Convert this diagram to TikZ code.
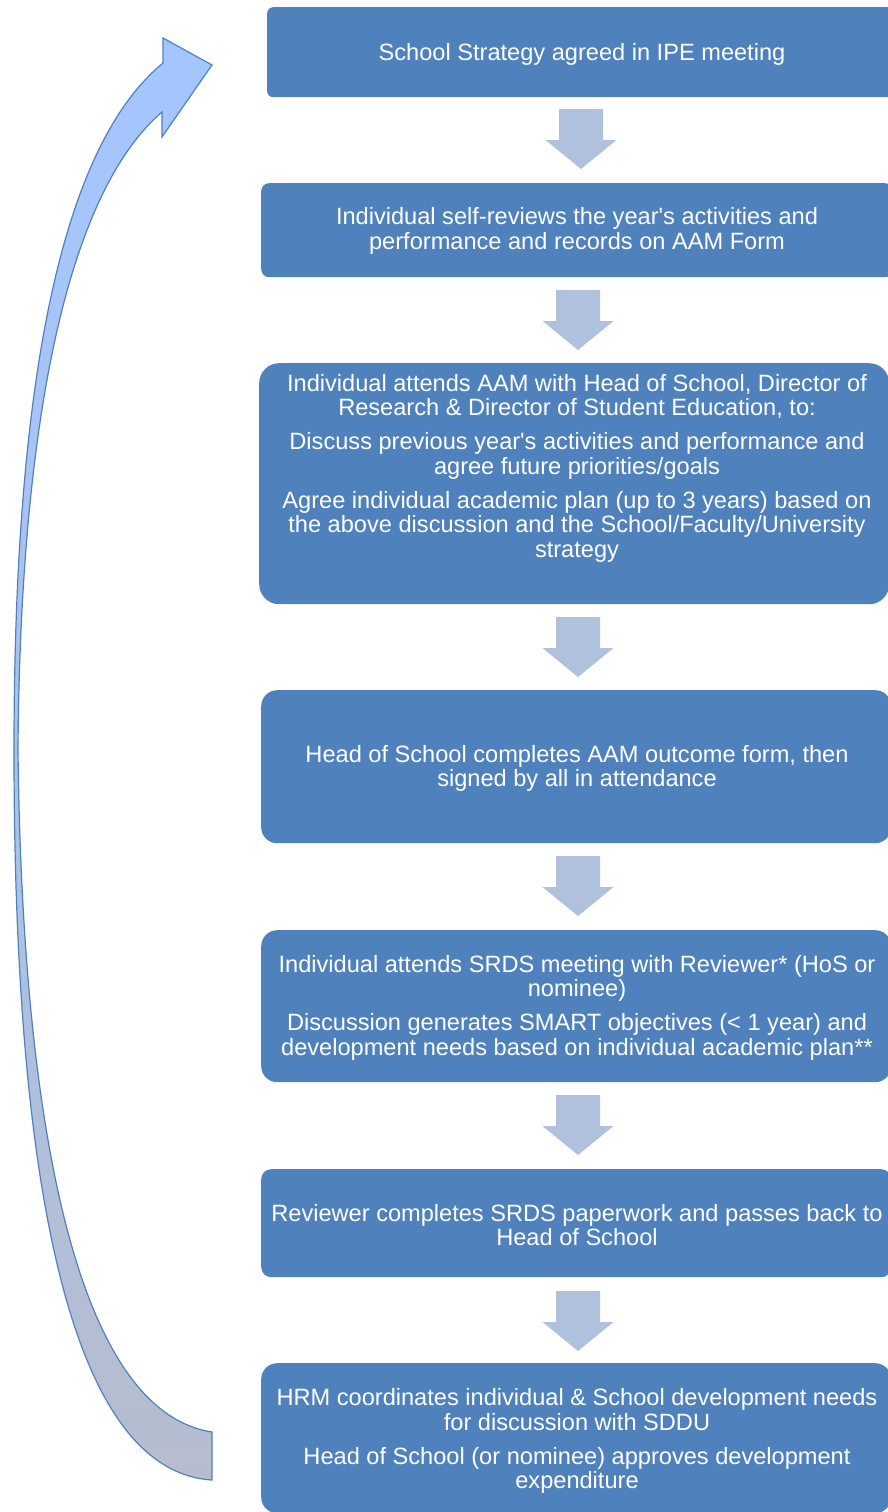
\documentclass[tikz,border=0pt]{standalone}
\usepackage{fontspec}
\setmainfont{Liberation Sans}[Ligatures=TeXOff]
\definecolor{boxblue}{HTML}{4F81BD}
\definecolor{arrowfill}{HTML}{B0C1DD}
\definecolor{curvetop}{HTML}{A4C6FF}
\definecolor{curvemid}{HTML}{ABC2EA}
\definecolor{curvebot}{HTML}{B5BDCD}
\tikzset{
  box/.style={fill=boxblue, draw=none, anchor=north west, inner sep=0pt},
  txt/.style={text=white, align=center, inner sep=0pt, font=\fontsize{23.6}{24.5}\selectfont},
  downarrow/.pic={
    \fill[arrowfill] (-22,0) -- (22,0) -- (22,31) -- (35.5,31) -- (0,60) -- (-35.5,31) -- (-22,31) -- cycle;
  }
}
\begin{document}
\begin{tikzpicture}[x=1pt,y=-1pt]
\useasboundingbox (0,0) rectangle (887,1512);

% boxes
\node[box, rounded corners=6pt, minimum width=626pt, minimum height=90pt] (b1) at (267,7) {};
\node[box, rounded corners=8pt, minimum width=632pt, minimum height=94pt] (b2) at (261,183) {};
\node[box, rounded corners=20pt, minimum width=630pt, minimum height=241pt] (b3) at (259,363) {};
\node[box, rounded corners=16pt, minimum width=630pt, minimum height=153pt] (b4) at (261,690) {};
\node[box, rounded corners=16pt, minimum width=630pt, minimum height=152pt] (b5) at (261,930) {};
\node[box, rounded corners=10pt, minimum width=630pt, minimum height=108pt] (b6) at (261,1169) {};
\node[box, rounded corners=16pt, minimum width=630pt, minimum height=150pt] (b7) at (261,1363) {};

% texts
\node[txt] (t1) at (582,54) {School Strategy agreed in IPE meeting};
\node[txt] (t2) at (577,231) {Individual self-reviews the year's activities and\\performance and records on AAM Form};
\node[txt] (t3) at (577,468) {Individual attends AAM with Head of School, Director of\\Research \& Director of Student Education, to:\\[9.5pt]
Discuss previous year's activities and performance and\\agree future priorities/goals\\[9.5pt]
Agree individual academic plan (up to 3 years) based on\\the above discussion and the School/Faculty/University\\strategy};
\node[txt] (t4) at (577,768.5) {Head of School completes AAM outcome form, then\\signed by all in attendance};
\node[txt] (t5) at (577,1007.5) {Individual attends SRDS meeting with Reviewer* (HoS or\\nominee)\\[9.5pt]
Discussion generates SMART objectives (< 1 year) and\\development needs based on individual academic plan**};
\node[txt] (t6) at (577,1225) {Reviewer completes SRDS paperwork and passes back to\\Head of School};
\node[txt] (t7) at (577,1441) {HRM coordinates individual \& School development needs\\for discussion with SDDU\\[9.5pt]
Head of School (or nominee) approves development\\expenditure};

% down arrows
\pic at (581,109) {downarrow};
\pic at (578,290) {downarrow};
\pic at (578,617) {downarrow};
\pic at (578,856) {downarrow};
\pic at (578,1095) {downarrow};
\pic at (578,1291) {downarrow};

% curved return arrow
\def\curvepath{(212,65) -- (162,137) -- (162,112)
  .. controls (60,200) and (20,450) .. (18,750)
  .. controls (22,1100) and (70,1410) .. (212,1432)
  -- (212,1480)
  .. controls (50,1470) and (14,1100) .. (14,750)
  .. controls (14,450) and (45,160) .. (163,63)
  -- (163,38) -- cycle}
\shade[top color=curvetop, bottom color=curvebot, middle color=curvemid] \curvepath;
\draw[boxblue, line width=1.2pt, line join=miter] \curvepath;
\end{tikzpicture}
\end{document}
